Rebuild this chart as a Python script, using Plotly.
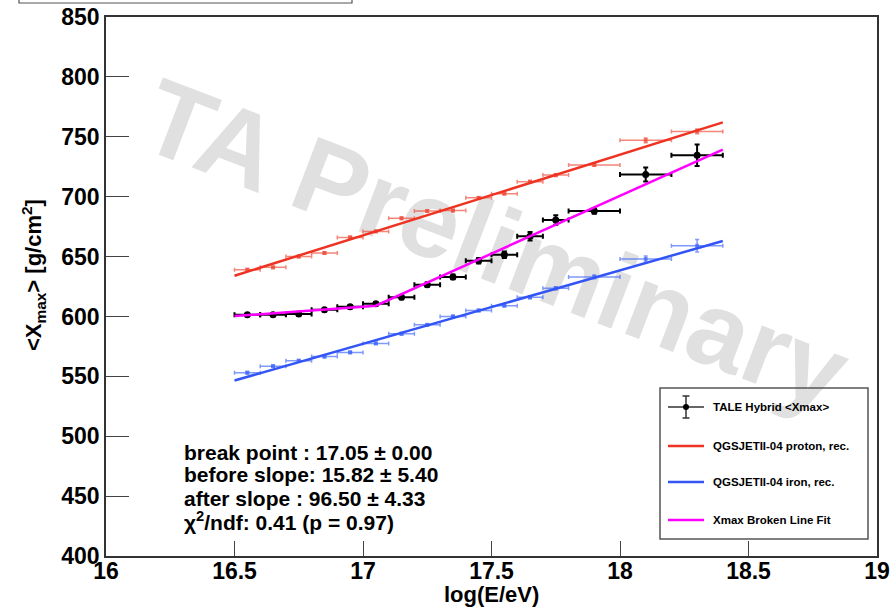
import plotly.graph_objects as go

# log10(E/eV) bin centres and half-widths
energy = [16.55, 16.65, 16.75, 16.85, 16.95, 17.05, 17.15, 17.25,
          17.35, 17.45, 17.55, 17.65, 17.75, 17.90, 18.10, 18.30]
energy_err = [0.05, 0.05, 0.05, 0.05, 0.05, 0.05, 0.05, 0.05,
              0.05, 0.05, 0.05, 0.05, 0.05, 0.10, 0.10, 0.10]

# TALE hybrid <Xmax> [g/cm^2]
tale_xmax = [601.5, 601.5, 602.0, 605.5, 608.0, 610.5, 616.0, 626.5,
             633.0, 646.5, 651.5, 667.0, 680.5, 688.0, 718.5, 734.5]
tale_err = [1.2, 1.2, 1.2, 1.3, 1.3, 1.4, 1.6, 1.8,
            2.0, 2.2, 2.8, 3.6, 3.9, 2.2, 5.8, 9.0]

# QGSJETII-04 reconstructed MC
proton_xmax = [639.0, 641.0, 650.0, 653.0, 666.0, 671.0, 682.0, 688.0,
               688.5, 699.0, 702.5, 712.5, 718.0, 726.5, 747.0, 754.5]
proton_err = [1.0, 1.0, 1.0, 1.0, 1.0, 1.0, 1.0, 1.0,
              1.0, 1.0, 1.0, 1.0, 1.2, 1.2, 2.0, 2.0]
iron_xmax = [553.0, 558.5, 563.0, 566.5, 570.0, 577.5, 585.5, 593.0,
             600.0, 605.0, 609.0, 616.0, 623.5, 633.0, 648.0, 659.0]
iron_err = [1.0, 1.0, 1.0, 1.0, 1.0, 1.0, 1.0, 1.0,
            1.0, 1.0, 1.0, 1.2, 1.2, 1.5, 2.5, 5.3]

# straight-line fits to the MC
fit_range = [16.5, 18.4]
proton_fit = [634.0, 762.0]
iron_fit = [546.5, 663.0]

# broken-line fit to the data
fit_break = 17.05
fit_break_err = 0.00
slope_before = 15.82
slope_before_err = 5.40
slope_after = 96.50
slope_after_err = 4.33
fit_at_break = 609.0
chi2_ndf = 0.41
p_value = 0.97

broken_x = [fit_range[0], fit_break, fit_range[1]]
broken_y = [fit_at_break + slope_before * (fit_range[0] - fit_break),
            fit_at_break,
            fit_at_break + slope_after * (fit_range[1] - fit_break)]

RED = "#ee3322"
RED_PTS = "rgba(238,70,50,0.65)"
BLUE = "#3355f5"
BLUE_PTS = "rgba(60,100,250,0.65)"
MAGENTA = "#ff00ff"
FONT = "Liberation Sans"

W, H = 891, 612
L, R, T, B = 106, 877, 17, 556


def px(x):
    return (x - L) / (R - L)


def py(y):
    return (B - y) / (B - T)


fig = go.Figure()

fig.add_trace(go.Scatter(
    x=energy, y=proton_xmax, mode="markers",
    marker=dict(symbol="square", size=4, color=RED_PTS),
    error_x=dict(type="data", array=energy_err, color=RED_PTS, thickness=1.5, width=2),
    error_y=dict(type="data", array=proton_err, color=RED_PTS, thickness=1.5, width=2),
    showlegend=False))
fig.add_trace(go.Scatter(
    x=energy, y=iron_xmax, mode="markers",
    marker=dict(symbol="square", size=4, color=BLUE_PTS),
    error_x=dict(type="data", array=energy_err, color=BLUE_PTS, thickness=1.5, width=2),
    error_y=dict(type="data", array=iron_err, color=BLUE_PTS, thickness=1.5, width=2),
    showlegend=False))
fig.add_trace(go.Scatter(x=fit_range, y=proton_fit, mode="lines",
                         line=dict(color=RED, width=2.5), showlegend=False))
fig.add_trace(go.Scatter(x=fit_range, y=iron_fit, mode="lines",
                         line=dict(color=BLUE, width=2.5), showlegend=False))
fig.add_trace(go.Scatter(
    x=energy, y=tale_xmax, mode="markers",
    marker=dict(symbol="circle", size=7, color="black"),
    error_x=dict(type="data", array=energy_err, color="black", thickness=2, width=2.5),
    error_y=dict(type="data", array=tale_err, color="black", thickness=2, width=2.5),
    showlegend=False))
fig.add_trace(go.Scatter(x=broken_x, y=broken_y, mode="lines",
                         line=dict(color=MAGENTA, width=2.5), showlegend=False))

shapes = []
# watermark, kept underneath the data
shapes.append(dict(
    type="rect", xref="x", yref="y", layer="below",
    x0=17.43, x1=17.63, y0=660, y1=676,
    line=dict(width=0), fillcolor="rgba(0,0,0,0)",
    label=dict(text="<b>TA Preliminary</b>", textangle=21,
               textposition="middle center",
               font=dict(family=FONT, size=107, color="#e0e0e0"))))

# box above the frame
shapes.append(dict(type="rect", xref="paper", yref="paper",
                   x0=px(19), x1=px(352), y0=py(3), y1=py(-6),
                   line=dict(color="#555555", width=1.2)))

# legend frame
shapes.append(dict(type="rect", xref="paper", yref="paper",
                   x0=px(660), x1=px(868), y0=py(539), y1=py(388),
                   line=dict(color="#555555", width=1.5)))

# legend symbols
lx0, lx1, lxc = 668, 704, 686
row_y = [407, 446, 482, 520]
shapes += [
    dict(type="line", xref="paper", yref="paper", x0=px(lx0), x1=px(lx1),
         y0=py(row_y[0]), y1=py(row_y[0]), line=dict(color="#333333", width=1.5)),
    dict(type="line", xref="paper", yref="paper", x0=px(lxc), x1=px(lxc),
         y0=py(row_y[0] - 11), y1=py(row_y[0] + 11), line=dict(color="#333333", width=1.5)),
    dict(type="line", xref="paper", yref="paper", x0=px(lxc - 3.5), x1=px(lxc + 3.5),
         y0=py(row_y[0] - 11), y1=py(row_y[0] - 11), line=dict(color="#333333", width=1.5)),
    dict(type="line", xref="paper", yref="paper", x0=px(lxc - 3.5), x1=px(lxc + 3.5),
         y0=py(row_y[0] + 11), y1=py(row_y[0] + 11), line=dict(color="#333333", width=1.5)),
    dict(type="circle", xref="paper", yref="paper", x0=px(lxc - 3), x1=px(lxc + 3),
         y0=py(row_y[0] + 3), y1=py(row_y[0] - 3), fillcolor="black", line=dict(width=0)),
]
for yy, col in zip(row_y[1:], [RED, BLUE, MAGENTA]):
    shapes.append(dict(type="line", xref="paper", yref="paper", x0=px(lx0), x1=px(lx1),
                       y0=py(yy), y1=py(yy), line=dict(color=col, width=2.5)))

legend_labels = ["TALE Hybrid &lt;Xmax&gt;", "QGSJETII-04 proton, rec.",
                 "QGSJETII-04 iron, rec.", "Xmax Broken Line Fit"]

annotations = []
for yy, lab in zip(row_y, legend_labels):
    annotations.append(dict(xref="paper", yref="paper", x=px(711), y=py(yy),
                            xanchor="left", yanchor="middle", showarrow=False,
                            text=f"<b>{lab}</b>",
                            font=dict(family=FONT, size=11.5, color="black")))

stats_lines = [
    f"break point : {fit_break:.2f} ± {fit_break_err:.2f}",
    f"before slope: {slope_before:.2f} ± {slope_before_err:.2f}",
    f"after slope : {slope_after:.2f} ± {slope_after_err:.2f}",
    f"χ<sup>2</sup>/ndf: {chi2_ndf:.2f} (p = {p_value:.2f})",
]
for i, s in enumerate(stats_lines):
    annotations.append(dict(xref="paper", yref="paper", x=px(182), y=py(452 + 23 * i),
                            xanchor="left", yanchor="middle", showarrow=False,
                            text=f"<b>{s}</b>",
                            font=dict(family=FONT, size=21, color="black")))

# axis titles
annotations.append(dict(xref="paper", yref="paper", x=px(491), y=py(594),
                        xanchor="center", yanchor="middle", showarrow=False,
                        text="<b>log(E/eV)</b>",
                        font=dict(family=FONT, size=22, color="black")))
annotations.append(dict(xref="paper", yref="paper", x=px(33), y=py(275),
                        xanchor="center", yanchor="middle", showarrow=False,
                        textangle=-90,
                        text="<b>&lt;X<sub>max</sub>&gt; [g/cm<sup>2</sup>]</b>",
                        font=dict(family=FONT, size=22, color="black")))

fig.update_layout(
    width=W, height=H,
    margin=dict(l=L, r=W - R, t=T, b=H - B, autoexpand=False),
    paper_bgcolor="white", plot_bgcolor="white",
    shapes=shapes, annotations=annotations, showlegend=False,
)
fig.update_xaxes(
    range=[16, 19], tickvals=[16, 16.5, 17, 17.5, 18, 18.5, 19],
    ticktext=["16", "16.5", "17", "17.5", "18", "18.5", "19"],
    ticks="inside", ticklen=15, tickwidth=1, tickcolor="#444444",
    ticklabelstandoff=-6, automargin=False,
    showline=True, linecolor="#333333", linewidth=1.5, mirror=True,
    showgrid=False, zeroline=False,
    tickfont=dict(family=FONT, size=23, color="black", weight="bold"),
)
fig.update_yaxes(
    range=[400, 850], tickvals=list(range(400, 851, 50)),
    ticks="inside", ticklen=23, tickwidth=1, tickcolor="#444444",
    automargin=False,
    showline=True, linecolor="#333333", linewidth=1.5, mirror=True,
    showgrid=False, zeroline=False,
    tickfont=dict(family=FONT, size=23, color="black", weight="bold"),
)

fig.write_html("out.html")
